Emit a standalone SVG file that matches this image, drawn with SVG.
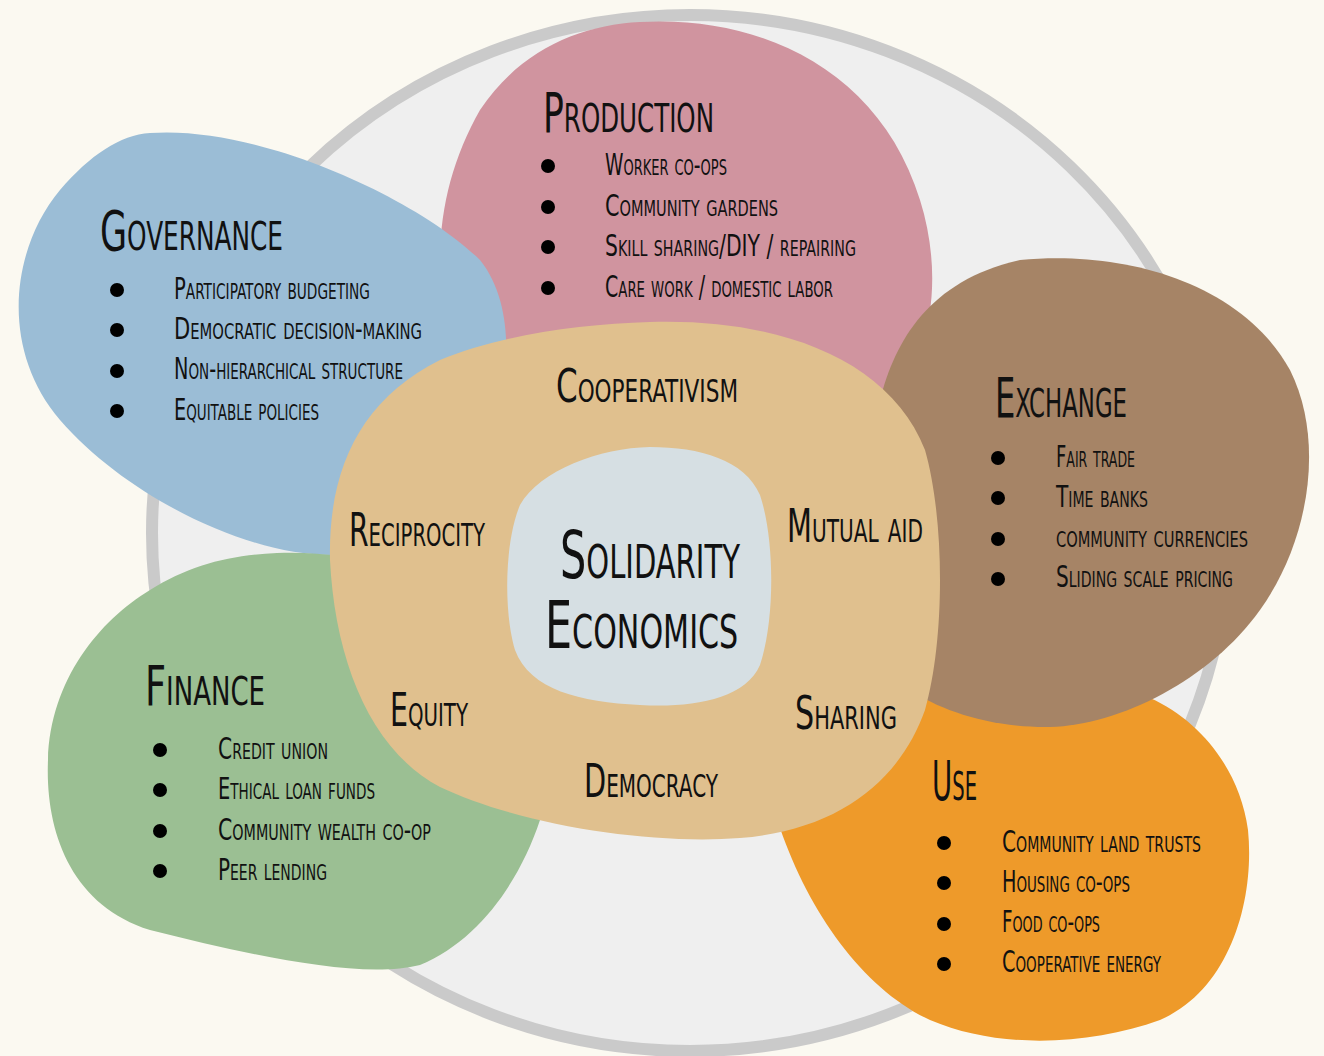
<svg xmlns="http://www.w3.org/2000/svg" width="1324" height="1056" viewBox="0 0 1324 1056">
<style>
text{font-family:"DejaVu Sans Condensed","Liberation Sans Narrow","Liberation Sans",sans-serif;font-variant:small-caps;fill:#111}
.title{font-size:55px}
.item{font-size:30px}
.ring{font-size:46px}
.center{font-size:66px}
.b{fill:#000}
</style>
<rect width="1324" height="1056" fill="#fbf9f1"/>
<ellipse id="outer-circle" cx="690" cy="533" rx="538" ry="518" fill="#efefef" stroke="#cacaca" stroke-width="12"/>

<g id="production">
<path d="M 640 22 C 760 15, 880 70, 920 200 C 945 280, 930 360, 890 400 L 600 420 L 450 340 C 430 260, 440 180, 480 110 C 520 50, 580 25, 640 22 Z" fill="#d0949f"/>
<text class="title" x="543" y="132" textLength="171" lengthAdjust="spacingAndGlyphs">Production</text>
<circle class="b" cx="548" cy="166" r="7"/><circle class="b" cx="548" cy="207" r="7"/><circle class="b" cx="548" cy="247" r="7"/><circle class="b" cx="548" cy="288" r="7"/>
<text class="item" x="605" y="175" textLength="122" lengthAdjust="spacingAndGlyphs">Worker co-ops</text>
<text class="item" x="605" y="216" textLength="173" lengthAdjust="spacingAndGlyphs">Community gardens</text>
<text class="item" x="605" y="256" textLength="251" lengthAdjust="spacingAndGlyphs">Skill sharing/DIY / repairing</text>
<text class="item" x="605" y="297" textLength="228" lengthAdjust="spacingAndGlyphs">Care work / domestic labor</text>
</g>

<g id="governance">
<path d="M 150 133 C 260 125, 420 200, 480 260 C 520 310, 510 400, 480 470 L 330 555 C 250 555, 130 500, 60 420 C 0 350, 10 250, 60 190 C 90 155, 120 135, 150 133 Z" fill="#9bbdd6"/>
<text class="title" x="100" y="250" textLength="183" lengthAdjust="spacingAndGlyphs">Governance</text>
<circle class="b" cx="117" cy="290" r="7"/><circle class="b" cx="117" cy="330" r="7"/><circle class="b" cx="117" cy="371" r="7"/><circle class="b" cx="117" cy="411" r="7"/>
<text class="item" x="174" y="299" textLength="196" lengthAdjust="spacingAndGlyphs">Participatory budgeting</text>
<text class="item" x="174" y="339" textLength="248" lengthAdjust="spacingAndGlyphs">Democratic decision-making</text>
<text class="item" x="174" y="379" textLength="229" lengthAdjust="spacingAndGlyphs">Non-hierarchical structure</text>
<text class="item" x="174" y="420" textLength="145" lengthAdjust="spacingAndGlyphs">Equitable policies</text>
</g>

<g id="finance">
<path d="M 277 553 C 350 550, 420 570, 470 600 L 540 820 C 520 880, 480 940, 420 965 C 360 980, 250 955, 150 930 C 70 905, 45 830, 48 760 C 50 680, 100 620, 150 590 C 190 565, 230 555, 277 553 Z" fill="#9bbf93"/>
<text class="title" x="145" y="705" textLength="120" lengthAdjust="spacingAndGlyphs">Finance</text>
<circle class="b" cx="160" cy="750" r="7"/><circle class="b" cx="160" cy="790" r="7"/><circle class="b" cx="160" cy="831" r="7"/><circle class="b" cx="160" cy="871" r="7"/>
<text class="item" x="218" y="759" textLength="110" lengthAdjust="spacingAndGlyphs">Credit union</text>
<text class="item" x="218" y="799" textLength="157" lengthAdjust="spacingAndGlyphs">Ethical loan funds</text>
<text class="item" x="218" y="840" textLength="213" lengthAdjust="spacingAndGlyphs">Community wealth co-op</text>
<text class="item" x="218" y="880" textLength="109" lengthAdjust="spacingAndGlyphs">Peer lending</text>
</g>

<g id="use">
<path d="M 1150 698 C 1200 720, 1240 770, 1248 830 C 1255 900, 1230 990, 1160 1020 C 1090 1045, 1000 1050, 930 1020 C 865 990, 810 915, 780 828 L 800 780 L 930 690 C 1000 690, 1100 680, 1150 698 Z" fill="#ee9a2a"/>
<text class="title" x="932" y="800" textLength="45" lengthAdjust="spacingAndGlyphs">Use</text>
<circle class="b" cx="944" cy="843" r="7"/><circle class="b" cx="944" cy="883" r="7"/><circle class="b" cx="944" cy="924" r="7"/><circle class="b" cx="944" cy="964" r="7"/>
<text class="item" x="1002" y="852" textLength="199" lengthAdjust="spacingAndGlyphs">Community land trusts</text>
<text class="item" x="1002" y="892" textLength="128" lengthAdjust="spacingAndGlyphs">Housing co-ops</text>
<text class="item" x="1002" y="932" textLength="98" lengthAdjust="spacingAndGlyphs">Food co-ops</text>
<text class="item" x="1002" y="972" textLength="159" lengthAdjust="spacingAndGlyphs">Cooperative energy</text>
</g>

<g id="exchange">
<path d="M 1020 260 C 1120 250, 1240 280, 1290 370 C 1325 440, 1310 540, 1260 610 C 1210 680, 1120 725, 1050 727 C 990 728, 940 710, 910 690 L 880 400 C 895 340, 930 280, 1020 260 Z" fill="#a68466"/>
<text class="title" x="995" y="417" textLength="132" lengthAdjust="spacingAndGlyphs">Exchange</text>
<circle class="b" cx="998" cy="458" r="7"/><circle class="b" cx="998" cy="498" r="7"/><circle class="b" cx="998" cy="539" r="7"/><circle class="b" cx="998" cy="579" r="7"/>
<text class="item" x="1056" y="467" textLength="79" lengthAdjust="spacingAndGlyphs">Fair trade</text>
<text class="item" x="1056" y="507" textLength="92" lengthAdjust="spacingAndGlyphs">Time banks</text>
<text class="item" x="1056" y="547" textLength="192" lengthAdjust="spacingAndGlyphs">community currencies</text>
<text class="item" x="1056" y="587" textLength="177" lengthAdjust="spacingAndGlyphs">Sliding scale pricing</text>
</g>

<g id="values-ring">
<path d="M 650 322 C 780 318, 890 360, 925 450 C 945 520, 945 640, 925 710 C 900 780, 840 830, 740 838 C 650 845, 520 825, 440 787 C 370 750, 335 660, 330 560 C 328 470, 360 400, 440 360 C 500 335, 580 324, 650 322 Z" fill="#e0c08e"/>
<text class="ring" x="556" y="402" textLength="182" lengthAdjust="spacingAndGlyphs">Cooperativism</text>
<text class="ring" x="349" y="546" textLength="136" lengthAdjust="spacingAndGlyphs">Reciprocity</text>
<text class="ring" x="787" y="542" textLength="136" lengthAdjust="spacingAndGlyphs">Mutual aid</text>
<text class="ring" x="390" y="726" textLength="78" lengthAdjust="spacingAndGlyphs">Equity</text>
<text class="ring" x="795" y="729" textLength="102" lengthAdjust="spacingAndGlyphs">Sharing</text>
<text class="ring" x="584" y="797" textLength="134" lengthAdjust="spacingAndGlyphs">Democracy</text>
</g>

<g id="solidarity-economics">
<path d="M 650 447 C 700 447, 745 460, 760 495 C 775 540, 775 620, 760 665 C 745 700, 690 708, 640 705 C 580 702, 530 690, 515 650 C 503 610, 505 540, 520 505 C 540 470, 600 448, 650 447 Z" fill="#d6dfe3"/>
<text class="center" transform="translate(560 578) scale(0.7 1)" x="0" y="0" textLength="257" lengthAdjust="spacingAndGlyphs">Solidarity</text>
<text class="center" transform="translate(545 648) scale(0.7 1)" x="0" y="0" textLength="276" lengthAdjust="spacingAndGlyphs">Economics</text>
</g>
</svg>
